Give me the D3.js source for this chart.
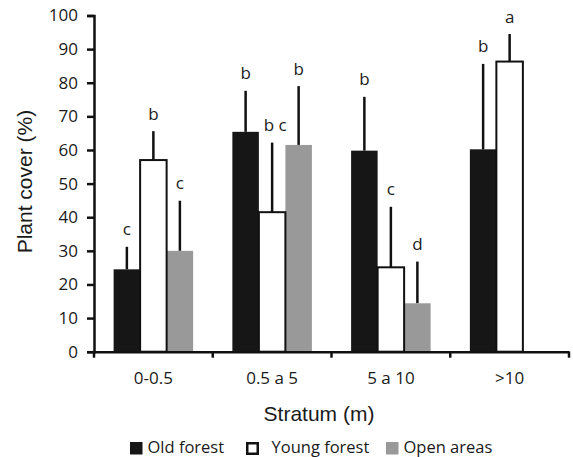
<!DOCTYPE html>
<html>
<head>
  <meta charset="utf-8">
  <title>plant-cover</title>
  <style>
    body { margin: 0; background: #fff; }
    .axis text { fill: #1a1a1a; font-family: "Open Sans", sans-serif; font-size: 17px; }
    .axis path, .axis line { stroke: #111; stroke-width: 2.5px; }
    .title { font-family: "Liberation Sans", Arial, sans-serif; font-size: 21px; fill: #1a1a1a; }
    .letter { font-family: "Open Sans", sans-serif; font-size: 17px; fill: #1a1a1a; text-anchor: middle; }
    .legend text { font-family: "Open Sans", sans-serif; font-size: 16.5px; fill: #1a1a1a; }
  </style>
  <script src="https://cdn.jsdelivr.net/npm/d3@7"></script>
</head>
<body>
<script>
  // data
  var strata = ["0-0.5", "0.5 a 5", "5 a 10", ">10"];
  var series = ["Old forest", "Young forest", "Open areas"];
  var yTicks = [0, 10, 20, 30, 40, 50, 60, 70, 80, 90, 100];

  var oldForest   = [24.5, 65.4, 59.8, 60.2];
  var youngForest = [57.0, 41.5, 25.1, 86.3];
  var openAreas   = [30.0, 61.5, 14.4, null];

  var oldForestErr   = [6.7, 12.2, 16.0, 25.4];
  var youngForestErr = [8.6, 20.7, 18.0, 8.2];
  var openAreasErr   = [14.9, 17.5, 12.4, null];

  var oldForestLetters   = ["c", "b", "b", "b"];
  var youngForestLetters = ["b", "b c", "c", "a"];
  var openAreasLetters   = ["c", "b", "d", null];

  var colors = { "Old forest": "#161616", "Young forest": "#ffffff", "Open areas": "#999999" };

  var margin = {top: 15.5, right: 4, bottom: 105.3, left: 94};
  var W = 573, H = 457;
  var width = W - margin.left - margin.right;
  var height = H - margin.top - margin.bottom;

  var svg = d3.select("body").append("svg")
    .attr("width", W)
    .attr("height", H);

  var g = svg.append("g")
    .attr("transform", "translate(" + margin.left + "," + margin.top + ")");

  var x0 = d3.scaleBand().domain(strata).range([0, width]);
  var x1 = d3.scaleBand().domain(series).range([0, x0.bandwidth()]).paddingInner(0).paddingOuter(0.74);
  var y = d3.scaleLinear().domain([0, 100]).range([height, 0]);

  // table built from the arrays
  var rows = [];
  strata.forEach(function(s, i) {
    rows.push({stratum: s, series: "Old forest", value: oldForest[i], err: oldForestErr[i], letter: oldForestLetters[i]});
    rows.push({stratum: s, series: "Open areas", value: openAreas[i], err: openAreasErr[i], letter: openAreasLetters[i]});
    rows.push({stratum: s, series: "Young forest", value: youngForest[i], err: youngForestErr[i], letter: youngForestLetters[i]});
  });
  rows = rows.filter(function(d) { return d.value != null; });

  function cx(d) { return x0(d.stratum) + x1(d.series) + x1.bandwidth() / 2; }

  // error bars (upper only)
  g.selectAll(".err")
    .data(rows)
    .enter().append("line")
      .attr("class", "err")
      .attr("x1", cx).attr("x2", cx)
      .attr("y1", function(d) { return y(d.value); })
      .attr("y2", function(d) { return y(d.value + d.err); })
      .attr("stroke", "#111")
      .attr("stroke-width", 2.5);

  // bars
  g.selectAll(".bar")
    .data(rows)
    .enter().append("rect")
      .attr("class", "bar")
      .attr("x", function(d) { return x0(d.stratum) + x1(d.series); })
      .attr("y", function(d) { return y(d.value); })
      .attr("width", x1.bandwidth())
      .attr("height", function(d) { return height - y(d.value); })
      .attr("fill", function(d) { return colors[d.series]; })
      .attr("stroke", function(d) { return d.series == "Young forest" ? "#111" : "none"; })
      .attr("stroke-width", 2);

  // significance letters
  g.selectAll(".letter")
    .data(rows)
    .enter().append("text")
      .attr("class", "letter")
      .attr("x", function(d) { return cx(d) + (d.letter.length > 1 ? 3 : 0); })
      .attr("y", function(d) { return y(d.value + d.err) - 11.5; })
      .text(function(d) { return d.letter; });

  // y axis
  g.append("g")
    .attr("class", "axis axis--y")
    .call(d3.axisLeft(y).tickValues(yTicks).tickSize(7).tickSizeOuter(7).tickPadding(9));

  // x axis: labels centred, ticks on the category boundaries
  var xAxis = g.append("g")
    .attr("class", "axis axis--x")
    .attr("transform", "translate(0," + height + ")")
    .call(d3.axisBottom(x0).tickSize(0).tickSizeOuter(0));
  xAxis.selectAll("text").attr("y", 32).attr("dy", 0);

  var bounds = strata.map(function(s) { return x0(s); }).concat([width]);
  xAxis.selectAll(".bound")
    .data(bounds)
    .enter().append("line")
      .attr("class", "bound")
      .attr("x1", function(d) { return d; }).attr("x2", function(d) { return d; })
      .attr("y1", 0).attr("y2", 6);

  // axis titles
  svg.append("text")
    .attr("class", "title")
    .attr("text-anchor", "middle")
    .attr("transform", "translate(32," + (margin.top + height / 2 - 2) + ") rotate(-90)")
    .text("Plant cover (%)");

  svg.append("text")
    .attr("class", "title")
    .attr("text-anchor", "middle")
    .attr("x", 319)
    .attr("y", 421)
    .text("Stratum (m)");

  // legend
  var legendX = [130, 246, 386];
  var leg = svg.append("g").attr("class", "legend");
  series.forEach(function(s, i) {
    var outline = s == "Young forest";
    leg.append("rect")
      .attr("x", legendX[i] + (outline ? 1.25 : 0))
      .attr("y", 442 + (outline ? 1.25 : 0))
      .attr("width", outline ? 10.5 : 12.5)
      .attr("height", outline ? 10.5 : 12.5)
      .attr("fill", colors[s])
      .attr("stroke", outline ? "#111" : "none")
      .attr("stroke-width", 2.5);
    leg.append("text")
      .attr("x", legendX[i] + (outline ? 25.5 : 17.5))
      .attr("y", 453)
      .text(s);
  });
</script>
</body>
</html>
